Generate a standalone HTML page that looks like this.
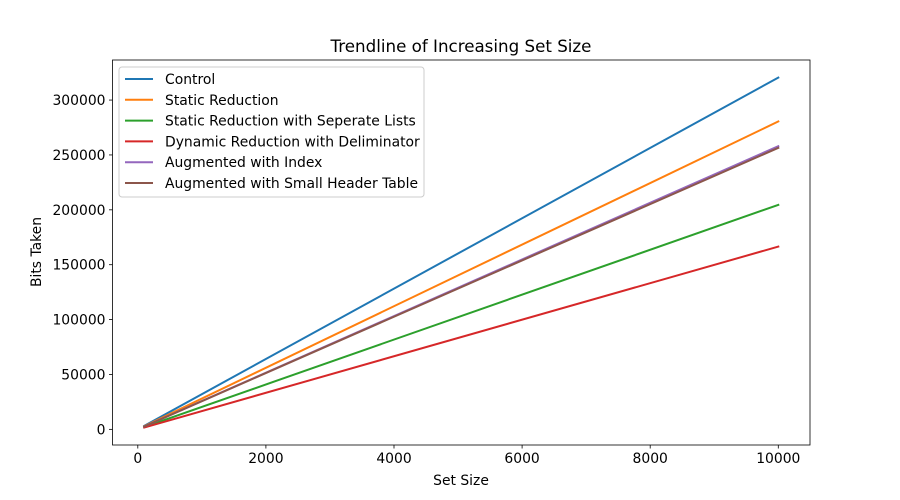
<!DOCTYPE html>
<html><head><meta charset="utf-8"><style>
body{margin:0;background:#fff;}
svg{display:block;font-family:"DejaVu Sans","Liberation Sans",sans-serif;}
</style></head><body>
<svg id="chart" width="900" height="500">
<rect width="900" height="500" fill="#fff"/>
<text x="461" y="52" font-size="16.7" text-anchor="middle">Trendline of Increasing Set Size</text>
<g id="xt"></g>
<g id="yt"></g>
<g id="lines"></g>
<rect x="112.5" y="60" width="697.5" height="385" fill="none" stroke="#000" stroke-width="0.8"/>
<text x="461" y="485" font-size="13.9" text-anchor="middle">Set Size</text>
<text transform="translate(41,252) rotate(-90)" font-size="13.9" text-anchor="middle">Bits Taken</text>
<g id="legend"></g>
</svg>
<script>
const setSizes=[100,10000];
const seriesNames=["Control","Static Reduction","Static Reduction with Seperate Lists","Dynamic Reduction with Deliminator","Augmented with Index","Augmented with Small Header Table"];
const control=[3200,320500];
const staticRed=[2800,280500];
const staticSep=[2040,204500];
const dynamic=[1660,166500];
const augIndex=[2580,258000];
const augHeader=[2560,256500];
const xTicks=[0,2000,4000,6000,8000,10000];
const yTicks=[0,50000,100000,150000,200000,250000,300000];
const colors=["#1f77b4","#ff7f0e","#2ca02c","#d62728","#9467bd","#8c564b"];
const allSeries=[control,staticRed,staticSep,dynamic,augIndex,augHeader];
const L=112.5,R=810,T=60,B=445;
const xmin=-395,xmax=10495,ymin=-14257,ymax=336500;
const X=v=>L+(v-xmin)/(xmax-xmin)*(R-L);
const Y=v=>B-(v-ymin)/(ymax-ymin)*(B-T);
const NS="http://www.w3.org/2000/svg";
function mk(t,a,p){const e=document.createElementNS(NS,t);for(const k in a)e.setAttribute(k,a[k]);p.appendChild(e);return e;}
const xt=document.getElementById('xt'),yt=document.getElementById('yt');
xTicks.forEach(v=>{
 const l=mk('line',{x1:X(v),x2:X(v),y1:B,y2:B+3.5,stroke:'#000','stroke-width':0.8},xt);
 
 
 const t=mk('text',{x:X(v),y:B+18,'font-size':13.9,'text-anchor':'middle'},xt);t.textContent=v;
 
 
});
yTicks.forEach(v=>{
 const l=mk('line',{x1:L-3.5,x2:L,y1:Y(v),y2:Y(v),stroke:'#000','stroke-width':0.8},yt);
 
 
 const t=mk('text',{x:L-7,y:Y(v)+5,'font-size':13.9,'text-anchor':'end'},yt);t.textContent=v;
 
 
});
const lg=document.getElementById('lines');
allSeries.forEach((s,i)=>{
 const p=mk('polyline',{points:s.map((v,j)=>X(setSizes[j])+','+Y(v)).join(' '),fill:'none',stroke:colors[i],'stroke-width':2,'stroke-linecap':'square'},lg);
 
 
});
const leg=document.getElementById('legend');
const box=mk('rect',{x:119,y:67,width:305,height:130,rx:3,fill:'#fff','fill-opacity':0.8,stroke:'#ccc'},leg);


seriesNames.forEach((n,i)=>{
 const y=79+i*20.8;
 const l=mk('line',{x1:125,x2:153,y1:y,y2:y,stroke:colors[i],'stroke-width':2},leg);
 
 
 const t=mk('text',{x:165,y:y+5,'font-size':13.9},leg);t.textContent=n;
 
 
});
</script>
</body></html>
